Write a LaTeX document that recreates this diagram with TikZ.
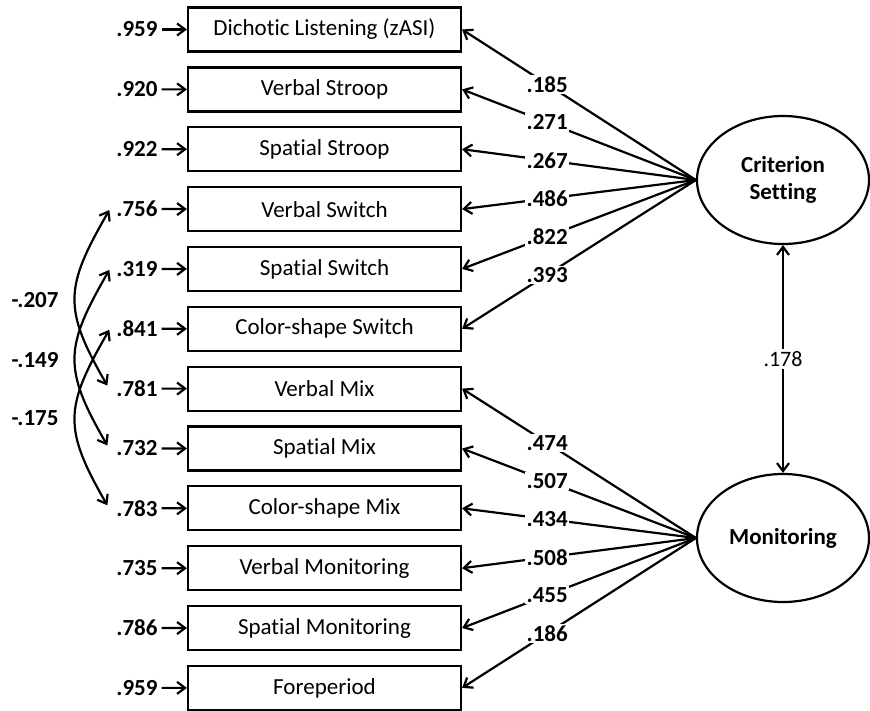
\documentclass[tikz,border=0pt]{standalone}
\usepackage{fontspec}
\setmainfont{Carlito}[Ligatures=NoCommon]
\usetikzlibrary{shapes.geometric,arrows.meta}
\begin{document}
\begin{tikzpicture}[x=1pt,y=-1pt,line width=2.2pt,
  tip/.style={-{Straight Barb[length=8pt,width=12pt]}},
  dtip/.style={{Straight Barb[length=8pt,width=12pt]}-{Straight Barb[length=8pt,width=12pt]}},
  obs/.style={draw,rectangle,minimum width=273pt,minimum height=44pt,inner sep=0pt,font=\fontsize{23}{27}\selectfont},
  lat/.style={draw,ellipse,minimum width=172pt,minimum height=128pt,inner sep=0pt,align=center,font=\fontsize{23}{27}\bfseries\selectfont},
  err/.style={inner sep=2pt,font=\fontsize{23}{27}\bfseries\selectfont},
  load/.style={fill=white,inner sep=1.5pt,font=\fontsize{23}{27}\bfseries\selectfont},
  cov/.style={inner sep=1pt,font=\fontsize{23}{27}\bfseries\selectfont},
  plain/.style={fill=white,inner sep=2pt,font=\fontsize{22}{26}\selectfont}]
\useasboundingbox (0,0) rectangle (870,710);
% observed variables
\node[obs] (b1)  at (324.5,29.5)  {Dichotic Listening (zASI)};
\node[obs] (b2)  at (324.5,89.4)  {Verbal Stroop};
\node[obs] (b3)  at (324.5,149.2) {Spatial Stroop};
\node[obs] (b4)  at (324.5,209.1) {Verbal Switch};
\node[obs] (b5)  at (324.5,268.9) {Spatial Switch};
\node[obs] (b6)  at (324.5,328.8) {Color-shape Switch};
\node[obs] (b7)  at (324.5,388.6) {Verbal Mix};
\node[obs] (b8)  at (324.5,448.5) {Spatial Mix};
\node[obs] (b9)  at (324.5,508.3) {Color-shape Mix};
\node[obs] (b10) at (324.5,568.2) {Verbal Monitoring};
\node[obs] (b11) at (324.5,628.0) {Spatial Monitoring};
\node[obs] (b12) at (324.5,687.9) {Foreperiod};
% latent variables
\node[lat] (cs)  at (783,180) {Criterion\\Setting};
\node[lat] (mon) at (783,538) {Monitoring};
% error variances
\foreach \i/\v in {1/.959,2/.920,3/.922,4/.756,5/.319,6/.841,7/.781,8/.732,9/.783,10/.735,11/.786,12/.959}{
  \node[err] (e\i) at (137,{29.5+59.85*(\i-1)}) {\v};
  \draw[tip] ([xshift=1pt]e\i.east) -- (b\i.west);
}
% loadings
\foreach \i/\v in {1/.185,2/.271,3/.267,4/.486,5/.822,6/.393}{
  \draw[tip] (cs.west) -- node[load,pos=0.636]{\v} (b\i.east);
}
\foreach \i/\v in {7/.474,8/.507,9/.434,10/.508,11/.455,12/.186}{
  \draw[tip] (mon.west) -- node[load,pos=0.636]{\v} (b\i.east);
}
% factor correlation
\draw[dtip] (cs.south) -- node[plain]{.178} (mon.north);
% residual covariances
\foreach \a/\b in {4/7,5/8,6/9}{
  \coordinate (u\a) at ([xshift=-4pt,yshift=-1pt]e\a.west);
  \coordinate (l\b) at ([xshift=-6pt,yshift=3pt]e\b.west);
  \draw[dtip] (u\a) to[out=240,in=120,looseness=1.3] (l\b);
}
\node[cov] (k1) at (35,300) {-.207};
\node[cov] (k2) at (35,360) {-.149};
\node[cov] (k3) at (35,418) {-.175};
\end{tikzpicture}
\end{document}
